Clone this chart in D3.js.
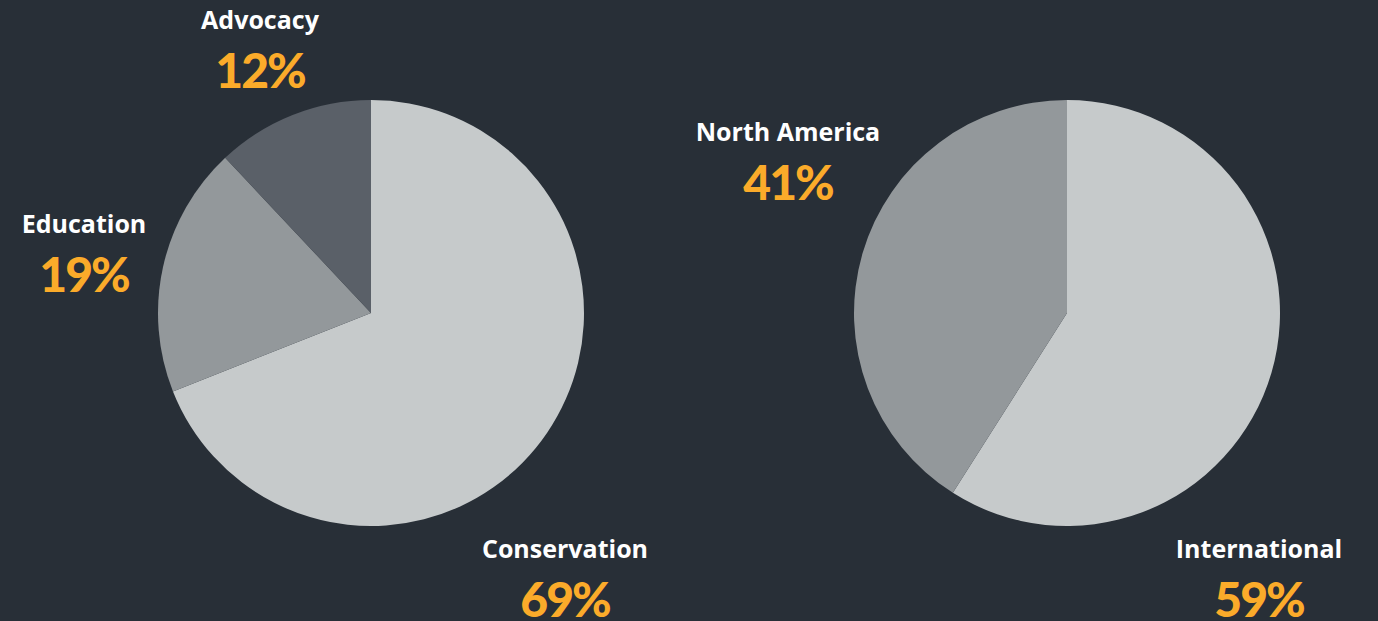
<!DOCTYPE html>
<html>
<head>
<meta charset="utf-8">
<script src="https://cdn.jsdelivr.net/npm/d3@7"></script>
<style>
  html, body { margin: 0; padding: 0; background: #282f37; overflow: hidden; }
  svg { display: block; }
</style>
</head>
<body>
<div id="chart"></div>
<script>
// Program focus split
const focusCategories = ['Conservation', 'Education', 'Advocacy'];
const focusValues = [69, 19, 12];
// Geographic split
const regionCategories = ['International', 'North America'];
const regionValues = [59, 41];

const sliceColors = ['#c6cacb', '#93989b', '#5a6068'];

const W = 1378, H = 621;
const svg = d3.select('#chart').append('svg')
    .attr('width', W)
    .attr('height', H);

const radius = 213;
const pie = d3.pie().sort(null).value(d => d.value);
const arc = d3.arc().innerRadius(0).outerRadius(radius);

// label anchor (centre x, name baseline y) per slice, in chart coords
function drawPie(cx, cy, cats, vals, labelPos) {
    const data = cats.map((c, i) => ({ name: c, value: vals[i] }));
    const g = svg.append('g').attr('transform', `translate(${cx},${cy})`);
    g.selectAll('path')
        .data(pie(data))
        .enter()
        .append('path')
        .attr('d', arc)
        .attr('fill', (d, i) => sliceColors[i]);

    const total = d3.sum(vals);
    const labels = svg.selectAll(null)
        .data(data)
        .enter()
        .append('g')
        .attr('transform', (d, i) => `translate(${labelPos[i][0]},${labelPos[i][1]})`);

    labels.append('text')
        .attr('text-anchor', 'middle')
        .style('font-family', '"Open Sans", sans-serif')
        .style('font-size', '25px')
        .style('font-weight', '700')
        .style('fill', '#ffffff')
        .text(d => d.name);

    labels.append('text')
        .attr('text-anchor', 'middle')
        .attr('y', 59)
        .style('font-family', 'Lato, sans-serif')
        .style('font-size', '48px')
        .style('font-weight', '900')
        .style('letter-spacing', '-2px')
        .style('fill', '#fbab2a')
        .text(d => Math.round(d.value / total * 100) + '%');
}

drawPie(371, 313, focusCategories, focusValues, [[565, 558], [84, 233], [260, 29]]);
drawPie(1067, 313, regionCategories, regionValues, [[1259, 558], [788, 141]]);
</script>
</body>
</html>
